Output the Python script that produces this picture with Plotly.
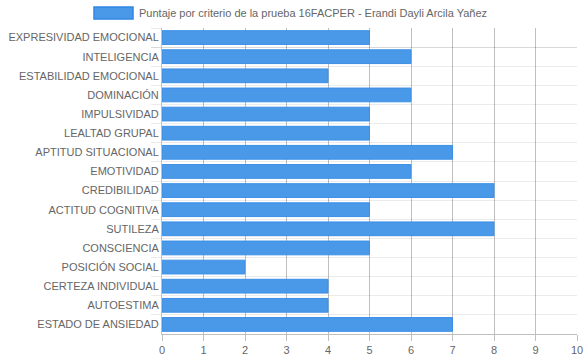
import plotly.graph_objects as go

categories = [
    "EXPRESIVIDAD EMOCIONAL", "INTELIGENCIA", "ESTABILIDAD EMOCIONAL", "DOMINACIÓN",
    "IMPULSIVIDAD", "LEALTAD GRUPAL", "APTITUD SITUACIONAL", "EMOTIVIDAD",
    "CREDIBILIDAD", "ACTITUD COGNITIVA", "SUTILEZA", "CONSCIENCIA",
    "POSICIÓN SOCIAL", "CERTEZA INDIVIDUAL", "AUTOESTIMA", "ESTADO DE ANSIEDAD",
]
values = [5, 6, 4, 6, 5, 5, 7, 6, 8, 5, 8, 5, 2, 4, 4, 7]
series_name = "Puntaje por criterio de la prueba 16FACPER - Erandi Dayli Arcila Yañez"
x_ticks = list(range(0, 11))

W, H = 584, 359
ml, mr, mt, mb = 162, 7, 28, 25

fig = go.Figure()
fig.add_trace(go.Bar(
    x=values, y=categories, orientation="h", name=series_name,
    width=0.72,
    marker=dict(color="#4a99e9", line=dict(color="#3b8fe6", width=1)),
    showlegend=False,
))

font = dict(family="Liberation Sans, Arial, sans-serif", size=11, color="#666666")

fig.update_layout(
    width=W, height=H,
    margin=dict(l=ml, r=mr, t=mt, b=mb, pad=0, autoexpand=False),
    paper_bgcolor="white", plot_bgcolor="white",
    font=font,
    xaxis=dict(
        range=[0, 10], tickvals=x_ticks, ticktext=[str(v) for v in x_ticks],
        showgrid=True, gridcolor="rgba(0,0,0,0.25)", gridwidth=1,
        zeroline=False, showline=True, linecolor="rgba(0,0,0,0.25)", linewidth=1,
        ticks="outside", ticklen=6, tickcolor="rgba(0,0,0,0.25)",
        tickfont=font, fixedrange=True, automargin=False,
    ),
    yaxis=dict(
        categoryorder="array", categoryarray=categories, autorange="reversed",
        tickson="boundaries", showgrid=True, gridcolor="rgba(0,0,0,0.08)",
        ticks="outside", ticklen=10, tickcolor="rgba(0,0,0,0.08)",
        showline=True, linecolor="rgba(0,0,0,0.25)", linewidth=1,
        zeroline=False, tickfont=font, automargin=False, fixedrange=True,
    ),
)

# legend drawn manually to match the wide swatch of the original
fig.add_shape(type="rect", xref="paper", yref="paper",
              x0=(94 - ml) / (W - ml - mr), x1=(133 - ml) / (W - ml - mr),
              y0=(H - mb - 19) / (H - mt - mb), y1=(H - mb - 7) / (H - mt - mb),
              fillcolor="#4a99e9", line=dict(color="#2f86e3", width=1.5))
fig.add_annotation(xref="paper", yref="paper",
                   x=(137 - ml) / (W - ml - mr), y=(H - mb - 13) / (H - mt - mb),
                   xanchor="left", yanchor="middle", showarrow=False,
                   text=series_name, font=font)

fig.write_html("out.html",
               config={"displayModeBar": False},
               post_script="document.body.style.margin='0';document.body.style.overflow='hidden';")
